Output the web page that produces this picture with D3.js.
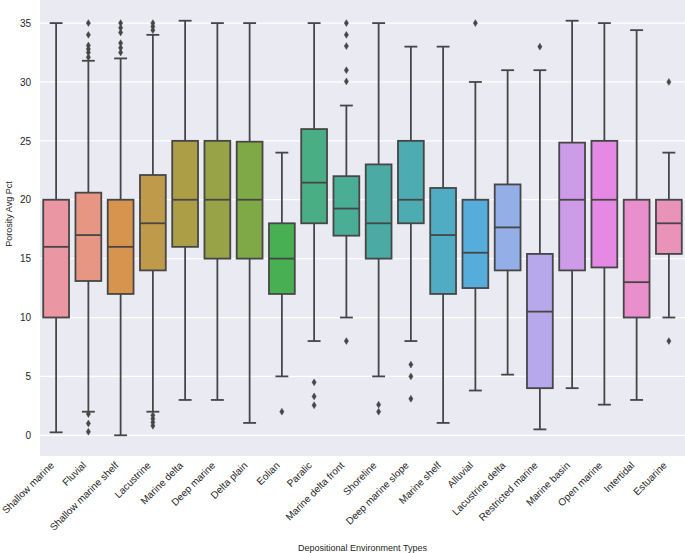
<!DOCTYPE html>
<html>
<head>
<meta charset="utf-8">
<script src="https://cdn.jsdelivr.net/npm/d3@7"></script>
<style>
  html, body { margin: 0; padding: 0; background: #ffffff; }
  svg { display: block; }
  text { font-family: "Liberation Sans", Arial, Helvetica, sans-serif; fill: #262626; }
</style>
</head>
<body>
<svg id="chart" width="685" height="553"></svg>
<script>
// ---------------- data ----------------
const categories = ["Shallow marine", "Fluvial", "Shallow marine shelf", "Lacustrine", "Marine delta",
  "Deep marine", "Delta plain", "Eolian", "Paralic", "Marine delta front", "Shoreline",
  "Deep marine slope", "Marine shelf", "Alluvial", "Lacustrine delta", "Restricted marine",
  "Marine basin", "Open marine", "Intertidal", "Estuarine"];
const whiskerLow  = [0.25, 2.0, 0.0, 2.0, 3.0, 3.0, 1.05, 5.0, 8.0, 10.0, 5.0, 8.0, 1.05, 3.8, 5.15, 0.5, 4.0, 2.6, 3.0, 10.0];
const q1          = [10.0, 13.1, 12.0, 14.0, 16.0, 15.0, 15.0, 12.0, 18.0, 16.95, 15.0, 18.0, 12.0, 12.5, 14.0, 4.0, 14.0, 14.25, 10.0, 15.4];
const medians     = [16.0, 17.0, 16.0, 18.0, 20.0, 20.0, 20.0, 15.0, 21.45, 19.25, 18.0, 20.0, 17.0, 15.5, 17.65, 10.5, 20.0, 20.0, 13.0, 18.0];
const q3          = [20.0, 20.6, 20.0, 22.1, 25.0, 25.0, 24.93, 18.0, 26.0, 22.0, 23.0, 25.0, 21.0, 20.0, 21.3, 15.4, 24.85, 25.0, 20.0, 20.0];
const whiskerHigh = [35.0, 31.8, 32.0, 34.0, 35.2, 35.0, 35.0, 24.0, 35.0, 28.0, 35.0, 33.0, 33.0, 30.0, 31.0, 31.0, 35.2, 35.0, 34.4, 24.0];
const outliers = [
  [],
  [35.0, 34.0, 33.1, 32.8, 32.5, 32.1, 1.8, 1.0, 0.3],
  [35.0, 34.6, 34.2, 33.3, 32.9, 32.5],
  [35.0, 34.7, 34.4, 1.7, 1.4, 1.1, 0.8],
  [],
  [],
  [],
  [2.0],
  [4.5, 3.3, 2.55],
  [35.0, 34.0, 33.05, 31.0, 30.05, 8.0],
  [2.6, 2.0],
  [6.0, 5.0, 3.1],
  [],
  [35.0],
  [],
  [33.0],
  [],
  [],
  [],
  [30.0, 8.0]
];
const yTicks = [0, 5, 10, 15, 20, 25, 30, 35];
const yLabel = "Porosity Avg Pct";
const xLabel = "Depositional Environment Types";

// ---------------- husl palette (seaborn style) ----------------
function huslToRgb(H, S, L) {
  const m = [[3.2406, -1.5372, -0.4986], [-0.9689, 1.8758, 0.0415], [0.0557, -0.2040, 1.0570]];
  const refU = 0.19784, refV = 0.46834, labE = 0.008856, labK = 903.3;
  function maxChroma(L, H) {
    const hrad = H / 360 * 2 * Math.PI, sinH = Math.sin(hrad), cosH = Math.cos(hrad);
    const sub1 = Math.pow(L + 16, 3) / 1560896;
    const sub2 = sub1 > labE ? sub1 : L / labK;
    let result = Infinity;
    for (const row of m) {
      const [m1, m2, m3] = row;
      const top = (0.99915 * m1 + 1.05122 * m2 + 1.14460 * m3) * sub2;
      const rb = 0.86330 * m3 - 0.17266 * m2;
      const lb = 0.12949 * m3 - 0.38848 * m1;
      const bottom = (rb * sinH + lb * cosH) * sub2;
      for (const t of [0, 1]) {
        const C = L * (top - 1.05122 * t) / (bottom + 0.17266 * sinH * t);
        if (C > 0 && C < result) result = C;
      }
    }
    return result;
  }
  const C = maxChroma(L, H) / 100 * S;
  const hr = H / 360 * 2 * Math.PI;
  const U = C * Math.cos(hr), V = C * Math.sin(hr);
  const t = (L + 16) / 116;
  const varY = Math.pow(t, 3) > labE ? Math.pow(t, 3) : (116 * t - 16) / labK;
  const vU = U / (13 * L) + refU, vV = V / (13 * L) + refV;
  const Y = varY;
  const X = -(9 * Y * vU) / ((vU - 4) * vV - vU * vV);
  const Z = (9 * Y - 15 * vV * Y - vV * X) / (3 * vV);
  const fromLin = c => c <= 0.0031308 ? 12.92 * c : 1.055 * Math.pow(c, 1 / 2.4) - 0.055;
  return m.map(r => Math.max(0, Math.min(1, fromLin(r[0] * X + r[1] * Y + r[2] * Z))));
}
function huslPalette(n, h, s, l) {
  const out = [];
  for (let i = 0; i < n; i++) {
    let hue = (i / n + h) % 1;
    const rgb = huslToRgb(hue * 359, s * 99, l * 99);
    const c = d3.hsl(d3.rgb(rgb[0] * 255, rgb[1] * 255, rgb[2] * 255));
    c.s *= 0.75; // seaborn desaturation
    out.push(c);
  }
  return out;
}
const pal = huslPalette(categories.length, 0.01, 0.9, 0.7);
const lum = d3.min(pal, c => c.l) * 0.6;
const gray = d3.rgb(lum * 255, lum * 255, lum * 255).formatHex();
const colors = pal.map(c => c.rgb().formatHex());

// ---------------- layout ----------------
const svg = d3.select("#chart");
const margin = { left: 40, right: 0, top: 0, bottom: 97 };
const W = 685, H = 553;
const pw = W - margin.left - margin.right, ph = H - margin.top - margin.bottom;

const x = d3.scaleBand().domain(categories).range([margin.left, margin.left + pw]).paddingInner(0).paddingOuter(0);
const y = d3.scaleLinear().domain([-1.76, 36.96]).range([margin.top + ph, margin.top]);

svg.append("rect").attr("x", margin.left).attr("y", margin.top).attr("width", pw).attr("height", ph).attr("fill", "#eaeaf2");

// grid
svg.append("g").selectAll("line").data(yTicks).join("line")
  .attr("x1", margin.left).attr("x2", margin.left + pw)
  .attr("y1", d => y(d)).attr("y2", d => y(d))
  .attr("stroke", "#ffffff").attr("stroke-width", 1.25);

// y axis labels
const yAxis = d3.axisLeft(y).tickValues(yTicks).tickSize(0).tickPadding(9);
const yg = svg.append("g").attr("transform", `translate(${margin.left},0)`).call(yAxis);
yg.select(".domain").remove();
yg.selectAll("text").attr("font-size", 10).attr("fill", "#262626").attr("font-family", "Liberation Sans, Arial, sans-serif");

// x axis labels
const xAxis = d3.axisBottom(x).tickSize(0).tickPadding(0);
const xg = svg.append("g").attr("transform", `translate(0,${margin.top + ph})`).call(xAxis);
xg.select(".domain").remove();
xg.selectAll("text")
  .attr("font-size", 10).attr("fill", "#262626").attr("font-family", "Liberation Sans, Arial, sans-serif")
  .attr("text-anchor", "end")
  .attr("dy", null).attr("y", null)
  .attr("transform", "translate(-1.5,10) rotate(-45)");

// axis titles
svg.append("text").attr("x", margin.left + pw / 2).attr("y", 551).attr("text-anchor", "middle")
  .attr("font-size", 9).text(xLabel);
svg.append("text").attr("transform", `translate(12,214) rotate(-90)`).attr("text-anchor", "middle")
  .attr("font-size", 9).text(yLabel);

// boxes
const bw = x.bandwidth() * 0.8;
const lw = 1.8;
const g = svg.append("g");
categories.forEach((cat, i) => {
  const cx = x(cat) + x.bandwidth() / 2;
  const gg = g.append("g");
  // whiskers
  gg.append("line").attr("x1", cx).attr("x2", cx).attr("y1", y(q3[i])).attr("y2", y(whiskerHigh[i]))
    .attr("stroke", gray).attr("stroke-width", lw);
  gg.append("line").attr("x1", cx).attr("x2", cx).attr("y1", y(q1[i])).attr("y2", y(whiskerLow[i]))
    .attr("stroke", gray).attr("stroke-width", lw);
  // caps
  [whiskerHigh[i], whiskerLow[i]].forEach(v => {
    gg.append("line").attr("x1", cx - bw / 4).attr("x2", cx + bw / 4).attr("y1", y(v)).attr("y2", y(v))
      .attr("stroke", gray).attr("stroke-width", lw);
  });
  // box
  gg.append("rect").attr("x", cx - bw / 2).attr("width", bw)
    .attr("y", y(q3[i])).attr("height", y(q1[i]) - y(q3[i]))
    .attr("fill", colors[i]).attr("stroke", gray).attr("stroke-width", lw);
  // median
  gg.append("line").attr("x1", cx - bw / 2).attr("x2", cx + bw / 2).attr("y1", y(medians[i])).attr("y2", y(medians[i]))
    .attr("stroke", gray).attr("stroke-width", lw);
  // outliers (thin diamonds)
  gg.selectAll("path.flier").data(outliers[i]).join("path").attr("class", "flier")
    .attr("d", d => `M${cx},${y(d) - 3.4} L${cx + 2.1},${y(d)} L${cx},${y(d) + 3.4} L${cx - 2.1},${y(d)} Z`)
    .attr("fill", gray).attr("stroke", gray).attr("stroke-width", 0.5);
});
</script>
</body>
</html>
